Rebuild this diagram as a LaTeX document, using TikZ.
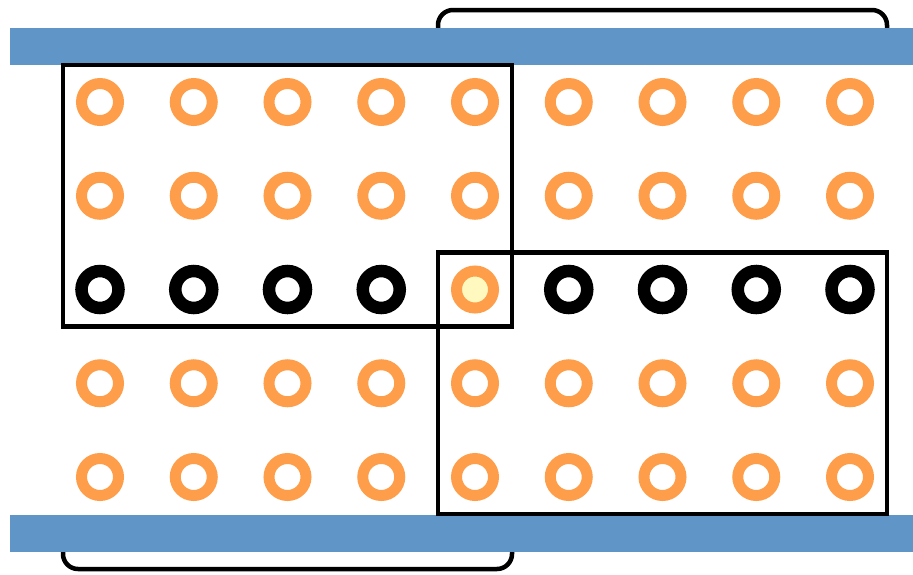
\documentclass[tikz,border=0pt]{standalone}
\usepackage{tikz}
\usetikzlibrary{calc}
\definecolor{railblue}{RGB}{96,150,199}
\definecolor{ringorange}{RGB}{255,158,74}
\definecolor{hotyellow}{RGB}{255,249,192}

\begin{document}
\begin{tikzpicture}[x=1pt, y=-1pt,
  ring/.style={circle, draw=ringorange, line width=11pt, minimum size=37pt, inner sep=0pt},
  frame/.style={draw=black, line width=4.5pt},
  wrap/.style={frame, rounded corners=15pt}]
  \useasboundingbox (0,0) rectangle (913,574);

  % wrap-around brackets, partly hidden by the rails
  \draw[wrap] (438,40) -- (438,10) -- (887,10) -- (887,40);
  \draw[wrap] (63,540) -- (63,569) -- (512,569) -- (512,540);

  % rails
  \fill[railblue] (10,28) rectangle (913,65);
  \fill[railblue] (10,515) rectangle (913,552);

  % grid of rings, middle row in black, one highlighted
  \foreach \r in {0,...,4}
    \foreach \c in {0,...,8} {
      \ifnum\r=2 \def\col{black}\def\w{12.5pt}\else\def\col{ringorange}\def\w{11pt}\fi
      \def\fc{none}
      \ifnum\r=2 \ifnum\c=4 \def\col{ringorange}\def\w{11pt}\def\fc{hotyellow}\fi\fi
      \node[ring, draw=\col, line width=\w, fill=\fc] (c-\r-\c) at (100+93.75*\c, 102+93.75*\r) {};
    }

  % the two overlapping windows
  \draw[frame] ($(c-0-0)+(-37,-37)$) rectangle ($(c-2-4)+(37,37)$);
  \draw[frame] ($(c-2-4)+(-37,-37)$) rectangle ($(c-4-8)+(37,37)$);
\end{tikzpicture}
\end{document}
